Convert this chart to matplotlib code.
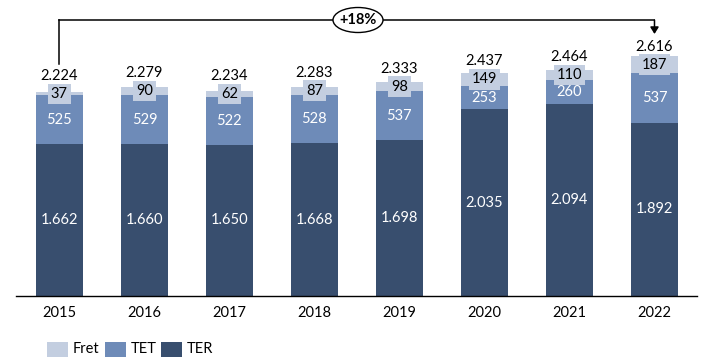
import matplotlib
matplotlib.use("Agg")
import matplotlib.pyplot as plt
from matplotlib.patches import Ellipse, Rectangle
import numpy as np

years = ["2015", "2016", "2017", "2018", "2019", "2020", "2021", "2022"]
ter = [1662, 1660, 1650, 1668, 1698, 2035, 2094, 1892]
tet = [525, 529, 522, 528, 537, 253, 260, 537]
fret = [37, 90, 62, 87, 98, 149, 110, 187]
totals = [2224, 2279, 2234, 2283, 2333, 2437, 2464, 2616]
series_names = ["Fret", "TET", "TER"]
growth_label = "+18%"

c_ter = "#384E6E"
c_tet = "#6E8BB8"
c_fret = "#C3CEE0"

def fmt(v):
    return f"{v:,}".replace(",", ".")

plt.rcParams['font.family'] = ['Lato', 'DejaVu Sans']

W, H = 706, 364
fig = plt.figure(figsize=(W / 100, H / 100), dpi=100)
ax = fig.add_axes([16 / W, 68 / H, (697 - 16) / W, 296 / H])
ax.set_xlim(-0.51, 7.5)
ax.set_ylim(0, 3228)
x = np.arange(len(years))
bw = 0.55
ter_a = np.array(ter); tet_a = np.array(tet); fret_a = np.array(fret)
ax.bar(x, ter_a, bw, color=c_ter, zorder=2)
ax.bar(x, tet_a, bw, bottom=ter_a, color=c_tet, zorder=2)
ax.bar(x, fret_a, bw, bottom=ter_a + tet_a, color=c_fret, zorder=2)

fs = 10.5
for i in range(len(years)):
    ax.text(x[i], ter[i] / 2, fmt(ter[i]), ha="center", va="center", color="white", fontsize=fs, zorder=3)
    ax.text(x[i], ter[i] + tet[i] / 2, fmt(tet[i]), ha="center", va="center", color="white", fontsize=fs, zorder=3)
    fy = ter[i] + tet[i] + fret[i] / 2
    ax.text(x[i], fy, fmt(fret[i]), ha="center", va="center", color="black", fontsize=fs, zorder=4,
            bbox=dict(boxstyle="square,pad=0.22", fc=c_fret, ec="none"))
    ax.annotate(fmt(totals[i]), (x[i], fy), xytext=(0, 18), textcoords="offset pixels",
                ha="center", va="center", fontsize=fs, color="black", zorder=4)

for s in ["top", "right", "left"]:
    ax.spines[s].set_visible(False)
ax.spines["bottom"].set_color("black")
ax.spines["bottom"].set_linewidth(1.0)
ax.set_yticks([])
ax.set_xticks(x)
ax.set_xticklabels(years, fontsize=fs)
ax.tick_params(axis="x", length=0, pad=7)

def px(xp, yp):
    return (xp / W, 1 - yp / H)

x0 = ax.transData.transform((x[0], 0))[0]
x1 = ax.transData.transform((x[-1], 0))[0]
xa, xb = x0 / W, x1 / W
ytop = 1 - 20 / H
fig.add_artist(plt.Line2D([xa, xa], [1 - 64 / H, ytop], color="black", lw=1.1, transform=fig.transFigure))
fig.add_artist(plt.Line2D([xa, xb], [ytop, ytop], color="black", lw=1.1, transform=fig.transFigure))
fig.add_artist(matplotlib.patches.FancyArrowPatch((xb, ytop), (xb, 1 - 34 / H), transform=fig.transFigure,
                                                  arrowstyle="-|>,head_length=4,head_width=2.5", color="black", lw=1.1,
                                                  shrinkA=0, shrinkB=0))
ell = Ellipse(px(358, 20), 50 / W, 25 / H, transform=fig.transFigure, fc="white", ec="black", lw=1.0, zorder=5)
fig.add_artist(ell)
fig.text(358 / W, 1 - 20 / H, growth_label, ha="center", va="center", fontsize=fs, fontweight="bold", zorder=6)

# legend drawn manually in figure pixel positions
leg_colors = [c_fret, c_tet, c_ter]
leg_x = [47, 105, 161]
for name, col, lx in zip(series_names, leg_colors, leg_x):
    fig.add_artist(Rectangle((lx / W, 1 - 357 / H), 21 / W, 15 / H, transform=fig.transFigure,
                             fc=col, ec="none"))
    fig.text((lx + 26) / W, 1 - 349 / H, name, ha="left", va="center", fontsize=fs)

fig.savefig("out.png", dpi=100)
